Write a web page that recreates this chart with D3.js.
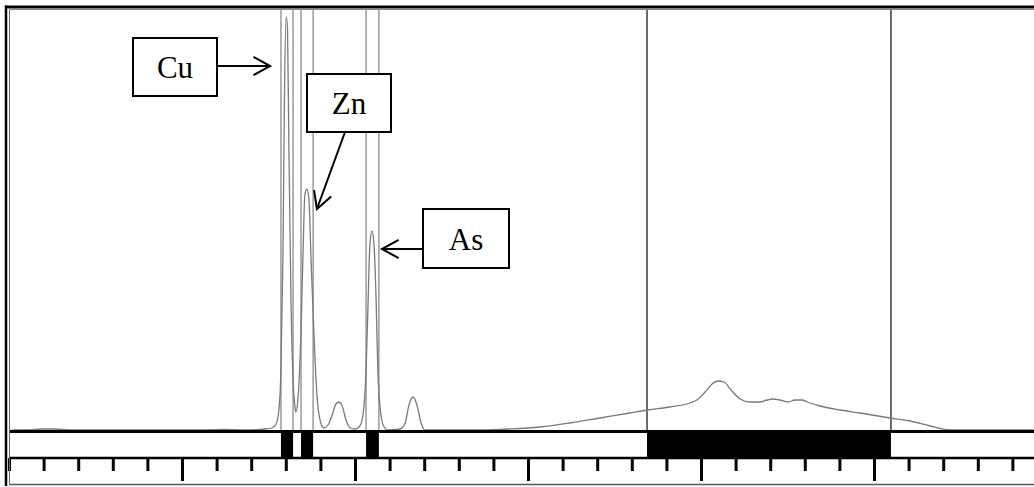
<!DOCTYPE html>
<html>
<head>
<meta charset="utf-8">
<script src="https://cdn.jsdelivr.net/npm/d3@7"></script>
<style>
  body { margin: 0; background: #fff; }
  svg { display: block; }
  .peak-label { font-family: 'Liberation Serif', 'DejaVu Serif', serif; font-size: 31px; }
</style>
</head>
<body>
<svg id="drawing_region"></svg>
<script>
// retention time (in tick units) and detector signal
const traceTime = [0.09, 0.61, 0.90, 1.33, 1.76, 2.34, 5.52, 6.24, 6.82, 7.40, 7.60, 7.72, 7.80, 7.86, 7.92, 7.96, 8.01, 8.05, 8.09, 8.15,
  8.21, 8.27, 8.29, 8.35, 8.44, 8.50, 8.55, 8.61, 8.67, 8.73, 8.82, 8.90, 8.99, 9.10, 9.22, 9.34, 9.45, 9.54, 9.62, 9.74,
  9.86, 10.00, 10.14, 10.23, 10.32, 10.38, 10.43, 10.49, 10.55, 10.61, 10.66, 10.75, 10.84, 10.95, 11.30, 11.45, 11.56, 11.68, 11.79, 11.91,
  12.02, 12.46, 13.61, 14.48, 15.35, 16.21, 17.08, 17.95, 18.47, 19.10, 19.68, 19.88, 20.12, 20.32, 20.49, 20.66, 20.87, 21.13, 21.42, 21.71,
  21.91, 22.08, 22.28, 22.51, 22.72, 22.92, 23.15, 23.44, 24.02, 24.60, 25.46, 26.04, 26.62, 27.20, 29.62];
const traceSignal = [0, 0, 1, 1, 0, 0, 0, 0.5, 0, 1, 2, 6, 20, 60, 180, 330, 413, 400, 280, 130,
  50, 22, 18, 30, 100, 180, 235, 241, 230, 170, 90, 35, 10, 2, 5, 15, 26, 28, 25, 10,
  2, 1, 4, 15, 60, 130, 185, 199, 185, 130, 60, 15, 3, 0, 1, 7, 25, 33, 25, 7,
  0, 0, 0, 1, 3, 7, 12, 17, 20, 23, 27, 30, 38, 46, 49, 48, 40, 31, 28, 28,
  30, 31, 30, 28, 30, 30, 27, 24, 20, 17, 12, 9, 4, 0, 0];

// integration windows [start, end]
const windowStart = [7.86, 8.44, 10.32, 18.44];
const windowEnd   = [8.21, 8.79, 10.69, 25.49];

// peak annotations
const peakNames = ['Cu', 'Zn', 'As'];
const peakTimes = [8.01, 8.61, 10.49];
const peakHeights = [413, 241, 199];

const majorTicks = [5, 10, 15, 20, 25];

const config = {
  width: 1034, height: 487,
  plotLeft: 9, plotRight: 1047, plotTop: 10, base: 430,
  bandTop: 432, bandBottom: 458
};

const svg = d3.select('#drawing_region')
  .attr('width', config.width)
  .attr('height', config.height);

const xscale = d3.scaleLinear().domain([0, 30]).range([config.plotLeft, config.plotRight]);
const yscale = d3.scaleLinear().domain([0, 413]).range([config.base, 17]);

// window boundary lines
windowStart.forEach((s, i) => {
  const big = (windowEnd[i] - s) > 2;
  [s, windowEnd[i]].forEach(t => {
    svg.append('line')
      .attr('x1', xscale(t)).attr('x2', xscale(t))
      .attr('y1', config.plotTop).attr('y2', config.bandTop)
      .attr('stroke', big ? '#3a3a3a' : '#9a9a9a')
      .attr('stroke-width', 1.5);
  });
});

// trace
const traceData = traceTime.map((t, i) => ({ t: t, v: traceSignal[i] }));
const line = d3.line()
  .x(d => xscale(d.t))
  .y(d => yscale(d.v))
  .curve(d3.curveMonotoneX);
svg.append('path')
  .datum(traceData)
  .attr('d', line)
  .attr('fill', 'none')
  .attr('stroke', '#7a7a7a')
  .attr('stroke-width', 1.3);

// band of integration windows
svg.selectAll('rect.win')
  .data(windowStart)
  .enter()
  .append('rect')
  .attr('class', 'win')
  .attr('x', d => xscale(d))
  .attr('width', (d, i) => xscale(windowEnd[i]) - xscale(d))
  .attr('y', config.bandTop)
  .attr('height', config.bandBottom - config.bandTop)
  .attr('fill', '#000');

svg.append('line')
  .attr('x1', config.plotLeft).attr('x2', config.width)
  .attr('y1', 431.5).attr('y2', 431.5)
  .attr('stroke', '#000').attr('stroke-width', 3);
svg.append('line')
  .attr('x1', config.plotLeft).attr('x2', config.width)
  .attr('y1', 458).attr('y2', 458)
  .attr('stroke', '#000').attr('stroke-width', 2.5);

// ticks
const minorAxis = d3.axisBottom(xscale)
  .tickValues(xscale.ticks(30).filter(t => !majorTicks.includes(t)))
  .tickSize(13).tickFormat('');
const majorAxis = d3.axisBottom(xscale)
  .tickValues(majorTicks)
  .tickSize(23).tickFormat('');
[minorAxis, majorAxis].forEach(ax => {
  const g = svg.append('g')
    .attr('transform', 'translate(0, 458)')
    .call(ax);
  g.select('.domain').remove();
  g.selectAll('.tick line').attr('stroke', '#000').attr('stroke-width', 3);
});

// frame
svg.append('line').attr('x1', 9).attr('x2', config.width).attr('y1', 484.5).attr('y2', 484.5)
  .attr('stroke', '#555').attr('stroke-width', 1.5);
svg.append('line').attr('x1', 6).attr('x2', 6).attr('y1', 5.5).attr('y2', 486)
  .attr('stroke', '#000').attr('stroke-width', 2.5);
svg.append('line').attr('x1', 5).attr('x2', config.width).attr('y1', 7).attr('y2', 7)
  .attr('stroke', '#000').attr('stroke-width', 3);
svg.append('line').attr('x1', 9.5).attr('x2', 9.5).attr('y1', 9.5).attr('y2', 485)
  .attr('stroke', '#666').attr('stroke-width', 1);
svg.append('line').attr('x1', 9.5).attr('x2', config.width).attr('y1', 9.5).attr('y2', 9.5)
  .attr('stroke', '#888').attr('stroke-width', 1);

// labels with arrows
const labelLayout = [
  { box: [133, 38, 84, 58], from: [217, 66], tip: [xscale(peakTimes[0]) - 16, 66] },
  { box: [307, 74, 84, 58], from: [345, 132], tip: [xscale(peakTimes[1]) + 10, yscale(peakHeights[1]) + 20] },
  { box: [423, 209, 86, 59], from: [423, 249], tip: [xscale(peakTimes[2]) + 10, 249] }
];

peakNames.forEach((name, i) => {
  const L = labelLayout[i];
  svg.append('rect')
    .attr('x', L.box[0]).attr('y', L.box[1])
    .attr('width', L.box[2]).attr('height', L.box[3])
    .attr('fill', '#fff').attr('stroke', '#000').attr('stroke-width', 2);
  svg.append('text')
    .attr('class', 'peak-label')
    .attr('x', L.box[0] + L.box[2] / 2)
    .attr('y', L.box[1] + L.box[3] / 2 + 11)
    .attr('text-anchor', 'middle')
    .text(name);

  const [x1, y1] = L.from, [x2, y2] = L.tip;
  const ang = Math.atan2(y2 - y1, x2 - x1);
  const len = 19, spread = 0.5;
  svg.append('line')
    .attr('x1', x1).attr('y1', y1).attr('x2', x2).attr('y2', y2)
    .attr('stroke', '#000').attr('stroke-width', 2);
  svg.append('path')
    .attr('d', `M${x2 - len * Math.cos(ang - spread)},${y2 - len * Math.sin(ang - spread)} L${x2},${y2} L${x2 - len * Math.cos(ang + spread)},${y2 - len * Math.sin(ang + spread)}`)
    .attr('fill', 'none').attr('stroke', '#000').attr('stroke-width', 2);
});
</script>
</body>
</html>
